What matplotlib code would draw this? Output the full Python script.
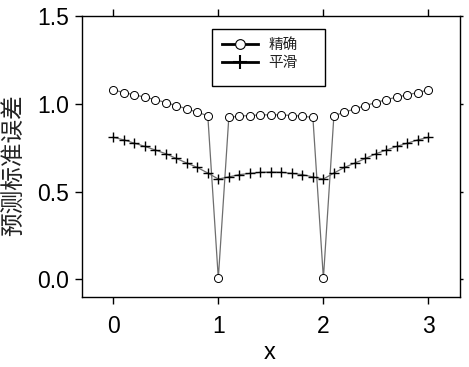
import numpy as np
import matplotlib
matplotlib.use("Agg")
import matplotlib.pyplot as plt
from matplotlib.lines import Line2D
from matplotlib.patches import Rectangle

x = [round(0.1 * i, 1) for i in range(31)]
exact = [1.078, 1.063, 1.050, 1.037, 1.023, 1.006, 0.989, 0.970, 0.951, 0.931,
         0.006,
         0.921, 0.929, 0.932, 0.936, 0.936, 0.936, 0.932, 0.929, 0.921,
         0.006,
         0.931, 0.951, 0.970, 0.989, 1.006, 1.023, 1.037, 1.050, 1.063, 1.078]
smooth = [0.808, 0.794, 0.775, 0.757, 0.736, 0.715, 0.688, 0.662, 0.637, 0.605,
          0.571,
          0.583, 0.596, 0.603, 0.609, 0.611, 0.609, 0.603, 0.596, 0.583,
          0.571,
          0.605, 0.637, 0.662, 0.688, 0.715, 0.736, 0.757, 0.775, 0.794, 0.808]
xticks = [0, 1, 2, 3]
yticks = [0.0, 0.5, 1.0, 1.5]
ytick_labels = ["0.0", "0.5", "1.0", "1.5"]
legend_labels = ["精确", "平滑"]
ylabel = "预测标准误差"

cjk = ["Noto Sans CJK SC", "DejaVu Sans"]
tickfont = "Liberation Sans"

fig = plt.figure(figsize=(4.69, 3.67), dpi=100)
ax = fig.add_axes([81.7 / 469, 1 - 297 / 367, (460 - 81.7) / 469, (297 - 15.7) / 367])

ax.plot(x, exact, color="#6e6e6e", lw=0.9, marker="o", ms=5.8,
        mfc="white", mec="black", mew=0.7)
ax.plot(x, smooth, color="#6e6e6e", lw=0.9, marker="+", ms=7,
        mec="black", mew=1.0)

ax.set_xlim(-0.3, 3.3)
ax.set_ylim(-0.1, 1.5)
ax.set_xticks(xticks)
ax.set_yticks(yticks)
ax.set_yticklabels(ytick_labels)
for lab in ax.get_xticklabels() + ax.get_yticklabels():
    lab.set_fontfamily(tickfont)
    lab.set_fontsize(16.5)

ax.tick_params(axis="x", which="both", direction="out", length=5, width=1,
               top=True, pad=8)
ax.tick_params(axis="y", which="both", direction="out", length=5, width=1,
               pad=4)
ax.tick_params(axis="y", right=True)
for t in ax.yaxis.get_major_ticks():
    t.tick2line.set_markersize(2.5)
for s in ax.spines.values():
    s.set_linewidth(1.0)

ax.set_xlabel("x", fontfamily=tickfont, fontsize=17)
ax.xaxis.set_label_coords((270 - 81.7) / 378.3, -(353 - 297) / 281.3)
ax.xaxis.label.set_va("center")
ax.set_ylabel(ylabel, family=cjk, fontsize=17, color="#222222")
ax.yaxis.set_label_coords(-(81.7 - 25) / 378.3, (297 - 165) / 281.3)

# legend frame
x0 = (211.7 - 81.7) / 378.3
x1 = (325.3 - 81.7) / 378.3
y0 = (297 - 86) / 281.3
y1 = (297 - 29.3) / 281.3
ax.add_patch(Rectangle((x0, y0), x1 - x0, y1 - y0, transform=ax.transAxes,
                       fill=True, facecolor="white", edgecolor="black", lw=1.0, zorder=5))
handles = [
    Line2D([], [], color="black", lw=2, marker="o", ms=7, mfc="white", mec="black", mew=0.8),
    Line2D([], [], color="black", lw=2, marker="+", ms=10, mec="black", mew=1.5),
]
leg = ax.legend(handles, legend_labels, frameon=False,
                prop={"family": cjk, "size": 10.5},
                loc="upper left",
                bbox_to_anchor=((222 - 81.7) / 378.3, (297 - 38) / 281.3),
                borderpad=0, borderaxespad=0, handlelength=2.5, handletextpad=0.7,
                labelspacing=0.25)
leg.set_zorder(6)
for t in leg.get_texts():
    t.set_color("#222222")

fig.savefig("out.png", dpi=100)
